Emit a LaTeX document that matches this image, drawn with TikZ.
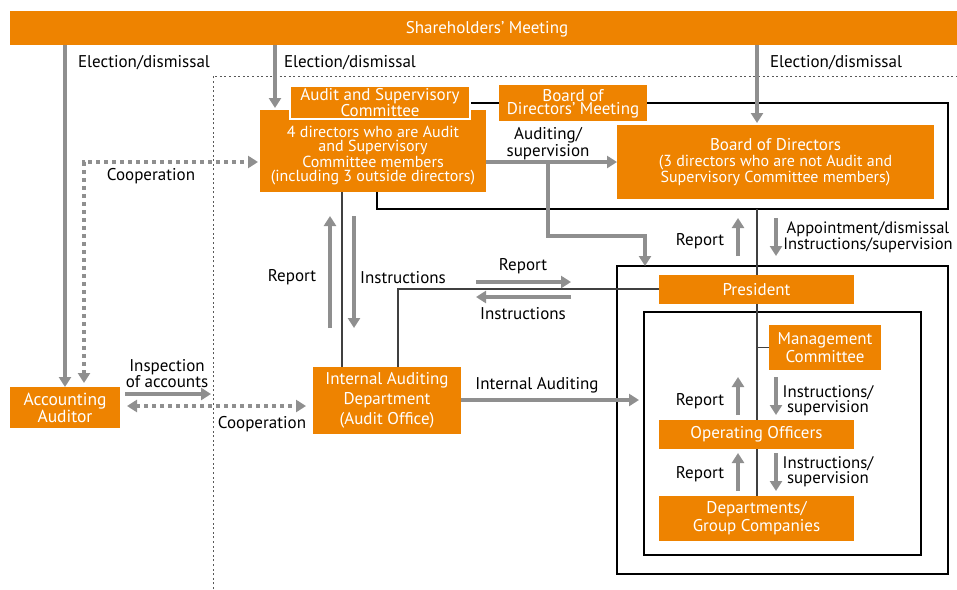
\documentclass[tikz,border=0pt]{standalone}
\usepackage{fontspec}
\setmainfont{PT Sans}
\usetikzlibrary{arrows.meta}
\definecolor{org}{RGB}{238,131,0}
\definecolor{garr}{RGB}{143,143,143}
\newcommand\fsz{\fontsize{17}{14}\selectfont}
\begin{document}
\begin{tikzpicture}[x=1pt,y=-1pt,
  box/.style={fill=org, text=white, inner sep=0pt, outer sep=0pt, align=center, font=\fsz},
  btext/.style={text=white, inner sep=0pt, align=center, font=\fsz},
  lbl/.style={text=black, inner sep=0pt, align=center, font=\fsz, yshift=-1.5pt},
  tip/.style={-{Triangle[length=10pt,width=12pt]}},
  garrow/.style={draw=garr, line width=4pt, tip},
  frame/.style={draw=black, line width=2pt, inner sep=0pt, outer sep=0pt},
  thinl/.style={draw=black!75, line width=1.3pt},
  bound/.style={draw=black!65, line width=1pt, dash pattern=on 2pt off 2.6pt},
  coop/.style={draw=garr, line width=4pt, dash pattern=on 4pt off 4pt}]
\useasboundingbox (0,0) rectangle (957,589);

% dotted boundary
\coordinate (bA) at (213,589);
\coordinate (bB) at (213,76);
\coordinate (bC) at (957,76);
\draw[bound] (bA) -- (bB) -- (bC);

% frames
\node[frame, minimum width=571pt, minimum height=106pt] (bodm) at (662.5,156) {};
\node[frame, minimum width=331pt, minimum height=308pt] (outer) at (782.5,420) {};
\node[frame, minimum width=277pt, minimum height=243pt] (inner) at (782.5,433.5) {};

% boxes
\node[box, minimum width=947pt, minimum height=34pt] (sh) at (483.5,28) {};
\node[btext] (sht) at (487,29.5) {Shareholders’ Meeting};
\node[box, minimum width=226pt, minimum height=82pt] (aud) at (373,151) {};
\node[btext, font=\fontsize{16}{14.2}\selectfont] (audt) at (373,155.5)
  {4 directors who are Audit\\and Supervisory\\Committee members\\(including 3 outside directors)};
\node[box, draw=white, line width=1.2pt, minimum width=180pt, minimum height=33pt, font=\fontsize{17}{13.5}\selectfont] (asc) at (380,102.5)
  {Audit and Supervisory\\Committee};
\node[box, minimum width=148pt, minimum height=36pt] (bodl) at (573,103) {};
\node[btext] (bodl1) at (573,95.5) {Board of};
\node[btext] (bodl2) at (573,110.5) {Directors’ Meeting};
\node[box, minimum width=317pt, minimum height=74pt] (bod) at (775.5,162) {};
\node[btext] (bodt) at (775.5,145) {Board of Directors};
\node[btext, font=\fontsize{16}{14}\selectfont] (bods) at (775.5,170.5) {(3 directors who are not Audit and\\Supervisory Committee members)};
\node[box, minimum width=195pt, minimum height=29pt] (pres) at (756.5,289.5) {President};
\node[box, minimum width=112pt, minimum height=45pt, font=\fontsize{17}{18}\selectfont] (mc) at (825,347.5) {Management\\Committee};
\node[box, minimum width=195pt, minimum height=29pt] (oo) at (756.5,434.5) {Operating Officers};
\node[box, minimum width=195pt, minimum height=45pt, font=\fontsize{17}{18}\selectfont] (dept) at (756.5,518.5) {Departments/\\Group Companies};
\node[box, minimum width=148pt, minimum height=67pt, font=\fontsize{17}{20}\selectfont] (iad) at (387,400.5) {Internal Auditing\\Department\\(Audit Office)};
\node[box, minimum width=110pt, minimum height=41pt, font=\fontsize{17.5}{13.5}\selectfont] (acc) at (65,407.5) {Accounting\\Auditor};

% thin black lines
\coordinate (pj) at (398,289);
\draw[thinl] (bodm.south -| 757,0) -- (pres.north -| 757,0);
\draw[thinl] (pres.south -| 757,0) -- (oo.north -| 757,0);
\draw[thinl] (oo.south -| 757,0) -- (dept.north -| 757,0);
\draw[thinl] (mc.west) -- (mc.west -| 757,0);
\draw[thinl] (aud.south -| 342,0) -- (iad.north -| 342,0);
\draw[thinl] (iad.north -| pj) -- (pj) -- (pres.west |- pj);

% gray arrows
\draw[garrow] (sh.south -| 65,0) -- (acc.north -| 65,0);
\draw[garrow] (sh.south -| 275,0) -- ([yshift=2pt]aud.north -| 275,0);
\draw[garrow] (sh.south -| 757,0) -- ([yshift=2pt]bod.north -| 757,0);
\draw[coop, {Triangle[length=10pt,width=12pt]}-{Triangle[length=10pt,width=12pt]}]
  ([yshift=4pt]acc.north -| 84,0) -- (84,162) -- ([xshift=-2pt]aud.west |- 0,162);
\draw[garrow] (aud.east |- 0,162) -- (bod.west |- 0,162);
\coordinate (br) at (548,162);
\coordinate (bk) at (548,236);
\draw[garrow] (br) -- (bk) -- (bk -| 645,0) -- (outer.north -| 645,0);
% report / instructions audit <-> internal auditing
\coordinate (r1a) at (330,328); \coordinate (r1b) at (330,216);
\coordinate (i1a) at (354,216); \coordinate (i1b) at (354,328);
\draw[garrow] (r1a) -- (r1b);
\draw[garrow] (i1a) -- (i1b);
% report / instructions internal auditing <-> president
\coordinate (r2a) at (476,282); \coordinate (r2b) at (571,282);
\coordinate (i2a) at (571,297); \coordinate (i2b) at (476,297);
\draw[garrow] (r2a) -- (r2b);
\draw[garrow] (i2a) -- (i2b);
% internal auditing arrow
\draw[garrow] (iad.east |- 0,400) -- ([xshift=-5pt]inner.west |- 0,400);
% inspection / cooperation
\coordinate (insA) at (125,394); \coordinate (insB) at (211,394);
\draw[garrow] (insA) -- (insB);
\coordinate (coA) at (127,406);
\draw[coop, {Triangle[length=10pt,width=12pt]}-{Triangle[length=10pt,width=12pt]}] (coA) -- ([xshift=-7pt]iad.west |- 0,406);
% right side small arrows
\foreach \ya/\yb [count=\i] in {256/218, 415/377, 491/453}{
  \coordinate (up\i a) at (738,\ya); \coordinate (up\i b) at (738,\yb);
  \coordinate (dn\i a) at (776,\yb); \coordinate (dn\i b) at (776,\ya);
  \draw[garrow] (up\i a) -- (up\i b);
  \draw[garrow] (dn\i a) -- (dn\i b);
}

% labels
\node[lbl] (t1) at (144,61) {Election/dismissal};
\node[lbl] (t2) at (350,61) {Election/dismissal};
\node[lbl] (t3) at (836,61) {Election/dismissal};
\node[lbl] (t4) at (151,175) {Cooperation};
\node[lbl, font=\fontsize{17}{14.5}\selectfont] (t5) at (548,142) {Auditing/\\supervision};
\node[lbl] (t6) at (292,276) {Report};
\node[lbl] (t7) at (403,276) {Instructions};
\node[lbl] (t8) at (523,265) {Report};
\node[lbl] (t9) at (523,312) {Instructions};
\node[lbl] (t10) at (537,384) {Internal Auditing};
\node[lbl, font=\fontsize{17}{13}\selectfont] (t11) at (167,372) {Inspection\\of accounts};
\node[lbl] (t12) at (262,423) {Cooperation};
\node[lbl] (t13) at (700,240) {Report};
\node[lbl, font=\fontsize{16.5}{15.5}\selectfont] (t14) at (868,236) {Appointment/dismissal\\Instructions/supervision};
\node[lbl] (t15) at (700,400) {Report};
\node[lbl, font=\fontsize{16.8}{13}\selectfont] (t16) at (828,399) {Instructions/\\supervision};
\node[lbl] (t17) at (700,473) {Report};
\node[lbl, font=\fontsize{16.8}{13}\selectfont] (t18) at (828,470) {Instructions/\\supervision};
\end{tikzpicture}
\end{document}
